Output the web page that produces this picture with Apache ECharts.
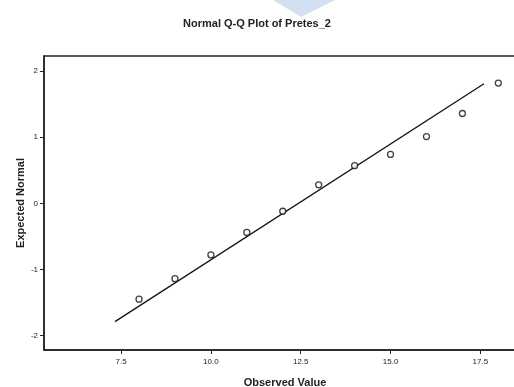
<!DOCTYPE html>
<html>
<head>
<meta charset="utf-8">
<script src="https://cdn.jsdelivr.net/npm/echarts@6/dist/echarts.min.js"></script>
<style>
html,body{margin:0;padding:0;background:#fff;}
#qq{width:514px;height:387px;}
</style>
</head>
<body>
<div id="qq"></div>
<script>
// observed values and their expected normal scores
var observed = [8, 9, 10, 11, 12, 13, 14, 15, 16, 17, 18];
var expected = [-1.45, -1.14, -0.78, -0.44, -0.12, 0.28, 0.57, 0.74, 1.01, 1.36, 1.82];
// reference line ends
var lineX = [7.33, 17.6];
var lineY = [-1.79, 1.81];
var xTicks = [7.5, 10, 12.5, 15, 17.5];
var yTicks = [-2, -1, 0, 1, 2];

var myChartQQ = echarts.init(document.getElementById('qq'));

var pts = [];
for (var i = 0; i < observed.length; i++) {
	pts.push([observed[i], expected[i]]);
}
var ref = [[lineX[0], lineY[0]], [lineX[1], lineY[1]]];

var option = {
	animation: false,
	title: {
		text: 'Normal Q-Q Plot of Pretes_2',
		left: 'center',
		top: 13,
		textStyle: {
			color: '#222',
			fontSize: 11,
			fontWeight: 'bold',
			fontFamily: 'Liberation Sans'
		}
	},
	graphic: [{
		type: 'polygon',
		shape: { points: [[273, 0], [335, 0], [301, 17]] },
		style: { fill: '#d3e0f2' },
		z: -1
	}],
	grid: {
		left: 44,
		right: -12,
		top: 56,
		bottom: 37,
		outerBoundsMode: 'none',
		show: true,
		borderColor: '#222',
		borderWidth: 1.5
	},
	xAxis: {
		type: 'value',
		min: 5.355,
		max: 18.77,
		name: 'Observed Value',
		nameLocation: 'middle',
		nameGap: 27,
		nameMoveOverlap: false,
		nameTextStyle: {
			color: '#222',
			fontSize: 11,
			fontWeight: 'bold',
			fontFamily: 'Liberation Sans'
		},
		splitLine: { show: false },
		axisLine: { show: true, onZero: false, lineStyle: { color: '#222', width: 1.5 } },
		axisTick: {
			show: true,
			length: 4,
			lineStyle: { color: '#222' },
			customValues: xTicks
		},
		axisLabel: {
			color: '#222',
			fontSize: 8,
			fontFamily: 'Liberation Sans',
			margin: 8,
			customValues: xTicks,
			formatter: function (v) { return v.toFixed(1); }
		}
	},
	yAxis: {
		type: 'value',
		min: -2.22,
		max: 2.23,
		name: 'Expected Normal',
		nameLocation: 'middle',
		nameGap: 18,
		nameMoveOverlap: false,
		nameTextStyle: {
			color: '#222',
			fontSize: 11,
			fontWeight: 'bold',
			fontFamily: 'Liberation Sans'
		},
		splitLine: { show: false },
		axisLine: { show: true, onZero: false, lineStyle: { color: '#222', width: 1.5 } },
		axisTick: {
			show: true,
			length: 4,
			lineStyle: { color: '#222' },
			customValues: yTicks
		},
		axisLabel: {
			color: '#222',
			fontSize: 8,
			fontFamily: 'Liberation Sans',
			margin: 6,
			customValues: yTicks
		}
	},
	series: [{
		type: 'line',
		data: ref,
		symbol: 'none',
		lineStyle: { color: '#111', width: 1.3 },
		z: 2
	}, {
		type: 'scatter',
		data: pts,
		symbol: 'circle',
		symbolSize: 6,
		itemStyle: {
			color: '#fff',
			borderColor: '#111',
			borderWidth: 1.3
		},
		z: 3
	}]
};
myChartQQ.setOption(option, true);
</script>
</body>
</html>
